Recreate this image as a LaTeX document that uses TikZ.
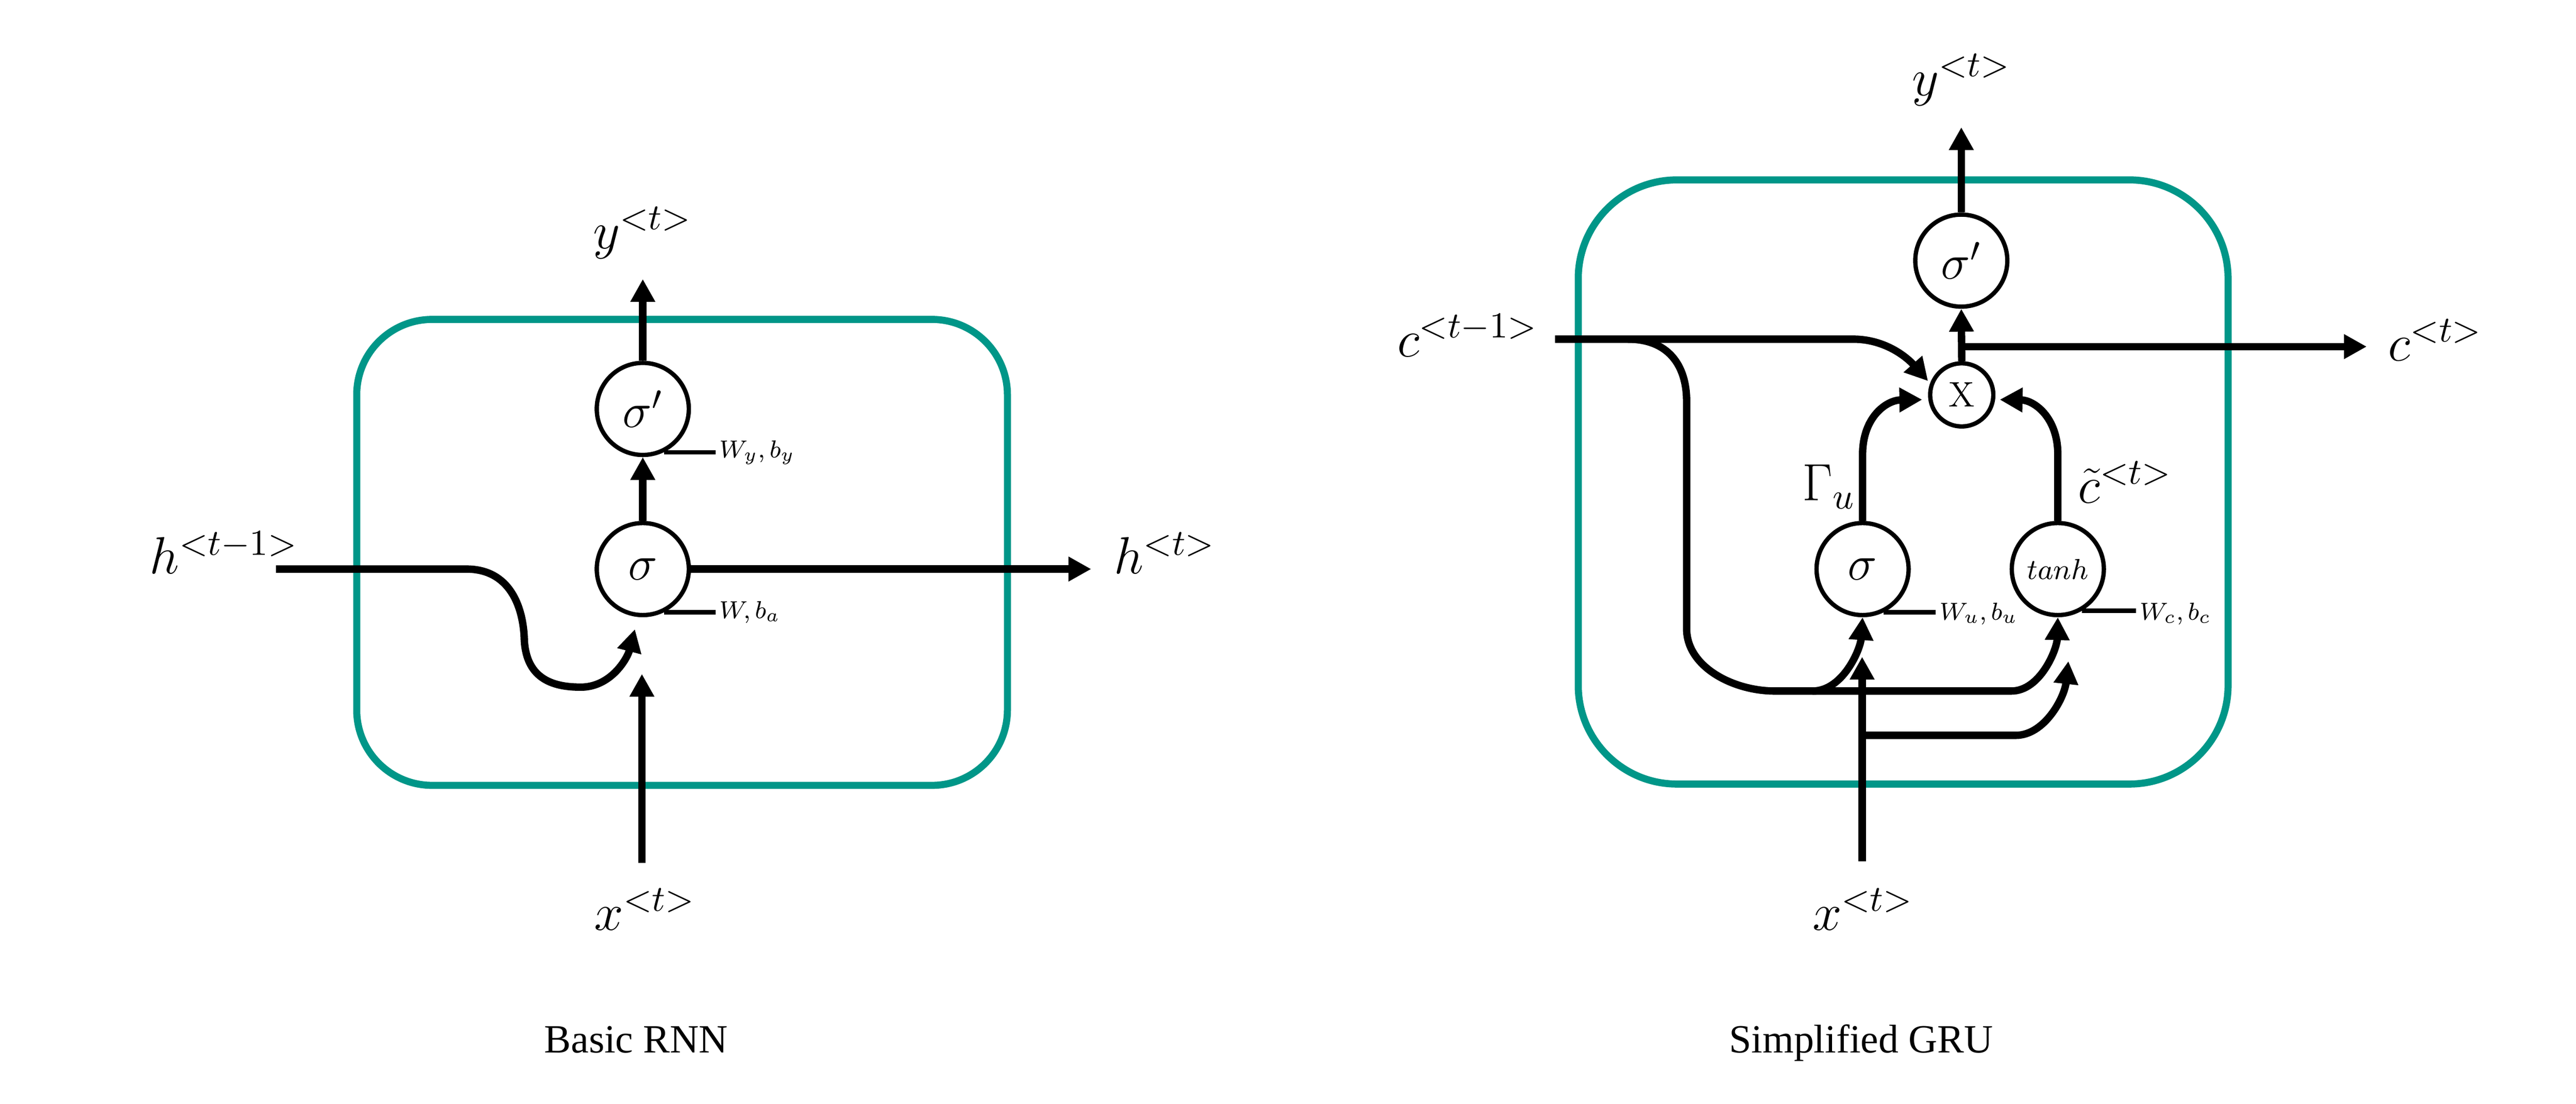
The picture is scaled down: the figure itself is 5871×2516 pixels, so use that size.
\RequirePackage{fix-cm}
\documentclass[tikz,border=0pt]{standalone}
\usepackage{fontspec}
\newfontfamily\capfont{Liberation Serif}
\usepackage{tikz}
\usetikzlibrary{arrows.meta,positioning}
\definecolor{cellteal}{RGB}{0,150,136}

\begin{document}
\begin{tikzpicture}[x=0.005cm, y=-0.005cm,
		wire/.style={line width=2.4pt},
		flow/.style={wire, -{Triangle[length=7.4pt, width=7.6pt]}},
		gate/.style={circle, draw, line width=1.4pt, minimum size=1.05cm, inner sep=0pt, font=\fontsize{16}{18}\selectfont},
		smallgate/.style={gate, minimum size=0.72cm, font=\fontsize{11.5}{13}\selectfont},
		cell/.style={draw=cellteal, line width=2.3pt},
		lbl/.style={inner sep=0pt, font=\fontsize{17}{20}\selectfont},
		wlbl/.style={anchor=west, inner sep=1pt, font=\fontsize{8}{10}\selectfont},
		tick/.style={line width=1.4pt},
		caption/.style={anchor=base, inner sep=0pt, font=\fontsize{13}{15}\selectfont\capfont}]
		\useasboundingbox (0,0) rectangle (5871,2516);
		
		\draw [cell, rounded corners=0.86cm] (813,728) rectangle (2296,1790);
		\draw [cell, rounded corners=1.125cm] (3597,410) rectangle (5078,1787);
		
		\node [gate] (sigpL) at (1465,932) {$\sigma'$};
		\node [gate] (sigL) at (1465,1297) {$\sigma$};
		\node [lbl, anchor=base] (yL) at (1464,566) {$y^{<t>}$};
		\node [lbl, anchor=base west] (hprevL) at (340,1308) {$h^{<t-1>}$};
		\node [lbl, anchor=base west] (hnextL) at (2538,1308) {$h^{<t>}$};
		\node [lbl, anchor=base] (xinL) at (1470,2120) {$x^{<t>}$};
		\node [wlbl] (wyL) at (1631,1031) {$W_y, b_y$};
		\node [wlbl] (waL) at (1631,1396) {$W, b_a$};
		\node [caption] (capL) at (1450,2400) {Basic RNN};
		
		\coordinate (yLtip) at (1465,636);
		\coordinate (hLtip) at (2487,1297);
		\coordinate (hLstart) at (629,1297);
		\coordinate (hLin) at (1447,1434);
		\coordinate (xLstart) at (1463,1967);
		\coordinate (xLtip) at (1463,1536);
		
		\draw [flow] (sigpL.north) to (yLtip);
		\draw [flow] (sigL.north) to (sigpL.south);
		\draw [flow] (sigL.east) to (hLtip);
		\draw [flow] (hLstart) -- (1063,1297) .. controls (1160,1297) and (1193,1380) .. (1195,1460) .. controls (1200,1540) and (1250,1568) .. (1330,1566) .. controls (1395,1562) and (1430,1500) .. (hLin);
		\draw [flow] (xLstart) to (xLtip);
		\draw [tick] (sigpL.-64) -- (sigpL.-64 -| wyL.west);
		\draw [tick] (sigL.-64) -- (sigL.-64 -| waL.west);
		
		\node [gate] (sigpR) at (4470,594) {$\sigma'$};
		\node [smallgate] (xmulR) at (4471,900) {X};
		\node [gate] (sigR) at (4245,1297) {$\sigma$};
		\node [gate, font=\fontsize{9.4}{11}\selectfont] (tanhR) at (4690,1297) {$tanh$};
		\node [lbl, anchor=base] (yR) at (4470,218) {$y^{<t>}$};
		\node [lbl, anchor=base west] (cprevR) at (3183,813) {$c^{<t-1>}$};
		\node [lbl, anchor=base west] (cnextR) at (5442,822) {$c^{<t>}$};
		\node [lbl, anchor=base west] (gammaR) at (4107,1141) {$\Gamma_u$};
		\node [lbl, anchor=base west] (ctildeR) at (4735,1146) {$\tilde{c}^{<t>}$};
		\node [lbl, anchor=base] (xinR) at (4246,2120) {$x^{<t>}$};
		\node [wlbl] (wuR) at (4412,1399) {$W_u, b_u$};
		\node [wlbl] (wcR) at (4868,1399) {$W_c, b_c$};
		\node [caption] (capR) at (4242,2400) {Simplified GRU};
		
		\coordinate (yRtip) at (4470,290);
		\coordinate (cjoin) at (4470,790);
		\coordinate (cRtip) at (5394,790);
		\coordinate (cRstart) at (3544,773);
		\coordinate (cRbend) at (4223,773);
		\coordinate (cRfork) at (3710,773);
		\coordinate (busS) at (4131,1575);
		\coordinate (xRstart) at (4244,1963);
		\coordinate (xRtip) at (4244,1497);
		\coordinate (xRfork) at (4244,1676);
		\coordinate (xRtip2) at (4714,1507);
		
		\draw [flow] (sigpR.north) to (yRtip);
		\draw [flow] (xmulR.north) to (sigpR.south);
		\draw [flow] (cjoin) to (cRtip);
		\draw [flow, shorten >=1pt] (cRstart) -- (cRbend) .. controls (4310,773) and (4360,830) .. (xmulR.160);
		\draw [flow] (cRfork) .. controls (3800,773) and (3844,830) .. (3844,915) -- (3844,1433) .. controls (3844,1520) and (3950,1575) .. (4045,1575) -- (4584,1575) .. controls (4650,1575) and (4688,1480) .. (tanhR.south);
		\draw [flow] (busS) .. controls (4200,1575) and (4240,1480) .. (sigR.south);
		\draw [flow] (xRstart) to (xRtip);
		\draw [flow] (xRfork) -- (4594,1676) .. controls (4660,1676) and (4705,1590) .. (xRtip2);
		\draw [flow, shorten >=2pt] (sigR.north) -- (4245,1036) .. controls (4245,950) and (4300,912) .. (xmulR.188);
		\draw [flow, shorten >=1.5pt] (tanhR.north) -- (4690,1036) .. controls (4690,950) and (4635,912) .. (xmulR.-8);
		\draw [tick] (sigR.-64) -- (sigR.-64 -| wuR.west);
		\draw [tick] (tanhR.-60) -- (tanhR.-60 -| wcR.west);
\end{tikzpicture}
\end{document}
